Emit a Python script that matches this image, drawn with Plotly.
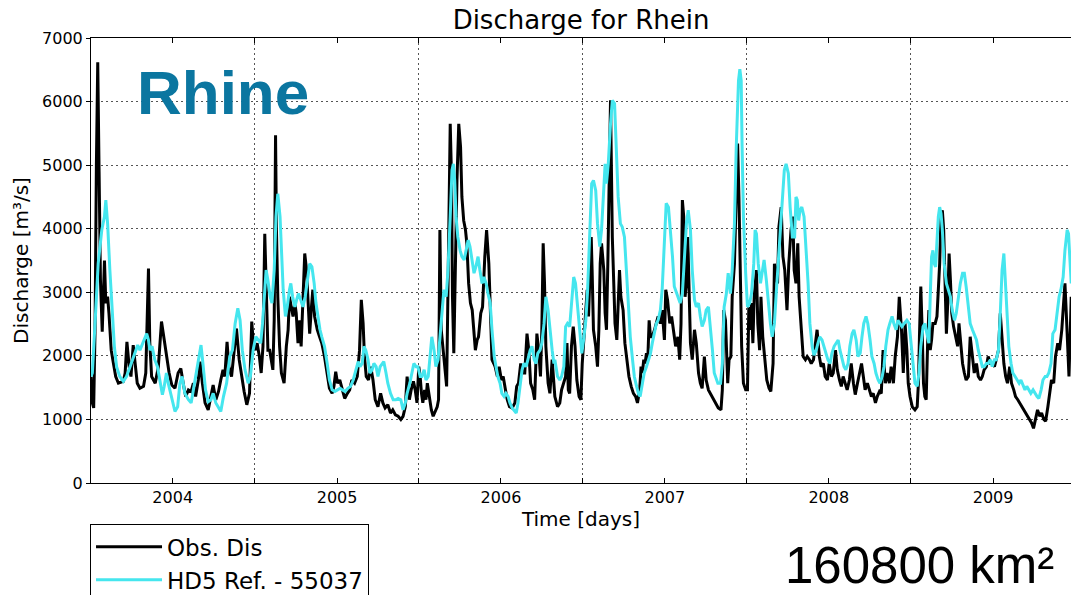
import pandas as pd
import plotly.graph_objects as go

# ---- data (days since first sample, discharge m3/s) ----
START = "2003-07-03"

obs_day = [0, 3, 6, 9, 12, 15, 18, 21, 25, 30, 33, 37, 40, 45, 50, 55, 61, 72, 76, 80, 85, 89, 94, 99, 103, 109, 117, 122, 125, 128, 131, 135, 143, 150, 157, 163, 168, 174, 180, 187, 194, 200, 206, 211, 217, 223, 228, 233, 239, 243, 248, 254, 261, 267, 272, 278, 284, 289, 294, 298, 303, 307, 313, 319, 324, 330, 335, 341, 347, 353, 358, 362,
           366, 370, 375, 379, 383, 387, 390, 394, 398, 402, 405, 408, 411, 413, 416, 420, 424, 430, 435, 439, 442, 446, 450, 454, 457, 461, 465, 468, 472, 476, 480, 483, 487, 491, 494, 498, 504, 509, 514, 520, 526, 531, 537, 541, 545, 549, 554, 559, 565, 571, 576, 581, 587, 593, 598, 602, 606, 609, 613, 618, 623, 628, 633, 639, 645, 650, 655, 661, 667, 672, 678, 684, 690, 695, 700, 704, 709, 713, 718, 722, 726,
           730, 733, 736, 739, 743, 746, 749, 753, 758, 762, 767, 771, 774, 777, 780, 785, 789, 792, 795, 798, 800, 803, 805, 808, 811, 815, 819, 823, 826, 830, 834, 837, 841, 845, 849, 852, 856, 860, 863, 868, 872, 877, 881, 886, 889, 893, 897, 900, 905, 909, 914, 918, 923, 927, 932, 938, 944, 948, 952, 957, 961, 966, 971, 975, 979, 984, 988, 993, 997, 1001, 1004, 1007, 1010, 1013, 1018, 1022, 1027, 1031,
           1033, 1039, 1044, 1048, 1053, 1057, 1060, 1063, 1066, 1070, 1074, 1078, 1082, 1087, 1091, 1094, 1099, 1102, 1105, 1108, 1111, 1114, 1116, 1119, 1124, 1128, 1131, 1134, 1137, 1142, 1145, 1148, 1151, 1154, 1157,
           1161, 1164, 1167, 1171, 1174, 1177, 1180, 1185, 1189, 1194, 1198, 1203, 1208, 1213, 1217, 1222, 1225, 1228, 1231, 1234, 1237, 1240, 1243, 1246, 1250, 1255, 1259, 1263, 1268, 1272, 1277, 1280, 1284, 1289, 1293, 1298, 1302, 1307, 1311, 1314, 1317, 1320, 1323, 1326, 1329, 1332, 1335, 1339, 1344, 1348, 1353, 1357, 1361, 1366, 1370, 1375, 1379, 1384, 1388,
           1397, 1403, 1406, 1409, 1413, 1418, 1421, 1425, 1428, 1433, 1437, 1440, 1443, 1446, 1449, 1453, 1458, 1462, 1465, 1468, 1471, 1474, 1477, 1482, 1485, 1489, 1492, 1496, 1501, 1505, 1510, 1514, 1519, 1522, 1526, 1529, 1532, 1537, 1541, 1545, 1550, 1554, 1559, 1563,
           1566, 1570, 1574, 1577, 1582, 1586, 1591, 1595, 1600, 1604, 1609, 1613, 1617, 1622, 1626, 1631, 1635, 1640, 1644, 1649, 1653, 1658, 1662, 1667, 1671, 1675, 1680, 1684, 1689, 1693, 1698, 1702, 1707, 1711, 1716, 1720, 1724, 1729, 1733, 1738, 1742, 1747, 1751, 1756, 1760, 1764, 1769, 1773, 1778, 1782, 1787, 1791, 1796, 1800, 1805, 1809,
           1813, 1817, 1820, 1824, 1829, 1835, 1840, 1843, 1845, 1848, 1851, 1854, 1857, 1860, 1863, 1866, 1869, 1872, 1875, 1880, 1884, 1887, 1890, 1893, 1896, 1899, 1902, 1905, 1908, 1911, 1914, 1917, 1921, 1926, 1930, 1933, 1936, 1941, 1945, 1949, 1954, 1958, 1963, 1967, 1972, 1976, 1981, 1985, 1989, 1994, 1998, 2003, 2007, 2012, 2016, 2021, 2025, 2028, 2033, 2037, 2041, 2046, 2050, 2055, 2059, 2064, 2068, 2073, 2077, 2082, 2086, 2090, 2095, 2099, 2104, 2108, 2113, 2117, 2122, 2126, 2131, 2135, 2139, 2144, 2148, 2153, 2157, 2162, 2166, 2169, 2172, 2175, 2178, 2181, 2183]

obs_q = [1670, 1260, 1180, 2400, 5000, 6620, 4900, 3200, 2380, 3500, 2830, 2930, 2670, 2090, 1880, 1675, 1570, 1600, 1730, 2220, 1830, 1675, 2170, 1830, 1570, 1490, 1520, 1730, 2410, 3375, 2200, 1675, 1570, 1830, 2540, 2250, 1940, 1730, 1540, 1490, 1730, 1800, 1540, 1360, 1465, 1440, 1570, 1360, 1620, 1910, 1570, 1260, 1150, 1360, 1540, 1310, 1440, 1620, 1780, 1675, 2220, 1830, 1675, 2090, 2430, 1940, 1675, 1440, 1230, 1410, 2540, 2150,
         2090, 2200, 1990, 1730, 2150, 3920, 3140, 2090, 2090, 1880, 1780, 2560, 5470, 3980, 2930, 2150, 1730, 1570, 2150, 2410, 2930, 2770, 2620, 2830, 2670, 2200, 2560, 2150, 2830, 3610, 3350, 2830, 2350, 2770, 3040, 2620, 2410, 2300, 2200, 1990, 1730, 1490, 1410, 1520, 1750, 1570, 1620, 1465, 1330, 1410, 1465, 1620, 1570, 1675, 2090, 2880, 2510, 1990, 1675, 1620, 1830, 1620, 1310, 1200, 1410, 1260, 1180, 1230, 1100, 1150, 1070, 1050, 1000, 1050, 1200, 1675, 1310, 1465, 1600, 1465, 1260,
         1830, 1675, 1410, 1260, 1465, 1310, 1570, 1360, 1150, 1050, 1150, 1200, 1310, 3980, 2410, 2040, 1675, 1520, 3040, 5020, 5650, 4760, 2930, 2040, 3450, 4760, 5650, 5290, 4500, 4130, 3980, 3770, 3140, 2830, 2720, 2410, 2090, 2250, 2300, 2670, 2770, 3560, 3980, 3450, 2620, 1940, 1880, 1830, 1675, 1830, 1620, 1675, 1465, 1310, 1200, 1180, 1260, 1520, 1570, 1880, 1730, 1730, 2350, 2090, 1570, 1465, 1310, 2350, 2090, 1675, 2410, 3770, 3140, 2150, 1570, 1410, 1940, 1520,
         1360, 1200, 1260, 1465, 1570, 1675, 2200, 1465, 1410, 2150, 2460, 2150, 1620, 1360, 1310, 1880, 2410, 2830, 3040, 2620, 3140, 3870, 3350, 2410, 2150, 1830, 2410, 3450, 3770, 3350, 2670, 2410, 3450, 5020, 6020,
         3870, 3140, 2510, 2250, 2930, 3350, 2930, 2720, 2200, 1880, 1675, 1520, 1410, 1360, 1260, 1465, 1830, 1730, 1940, 1880, 2040, 1940, 2560, 2300, 2300, 2410, 2510, 2620, 2510, 2720, 2250, 3040, 2880, 2510, 2620, 2350, 2150, 2300, 1940, 2510, 4450, 4190, 2930, 3140, 3870, 3040, 2200, 1940, 2410, 2200, 1730, 1570, 1490, 1990, 1620, 1465, 1410, 1360, 1310,
         1180, 1150, 1465, 2720, 2560, 1570, 1940, 1990, 2930, 3450, 4600, 5340, 4500, 2930, 2150, 1570, 1465, 1465, 2770, 2410, 2830, 2200, 2930, 3350, 2510, 2090, 2930, 2300, 1880, 1620, 1490, 1440, 1880, 3450, 3240, 3140, 4030, 4340, 3560, 3350, 2720, 3450, 3980, 4190,
         3350, 3140, 3770, 2930, 2410, 1990, 1940, 1990, 1940, 1880, 1940, 2150, 2410, 1990, 1830, 1880, 1675, 1620, 1880, 1675, 1730, 2090, 1780, 1620, 1520, 1675, 1570, 1465, 1620, 1880, 1570, 1390, 1570, 1730, 1880, 1675, 1465, 1570, 1465, 1360, 1410, 1260, 1360, 1440, 1410, 2090, 1570, 1730, 1570, 1830, 1570, 1990, 2300, 2930, 2410, 1730,
         2510, 2090, 1570, 1360, 1200, 1150, 1200, 1620, 2300, 3090, 2410, 1570, 1360, 1310, 2150, 2720, 2090, 2250, 2510, 2510, 2620, 3040, 3450, 4190, 4290, 3980, 3090, 2350, 2830, 3610, 3190, 2670, 2460, 2250, 2150, 2510, 2250, 1880, 1730, 1620, 1675, 2300, 1990, 1730, 1880, 1675, 1620, 1675, 1780, 1830, 1990, 1880, 1880, 1830, 1940, 2090, 2670, 2300, 1880, 1675, 1570, 1830, 1570, 1465, 1360, 1310, 1260, 1200, 1150, 1100, 1050, 1000, 940, 860, 1000, 1150, 1050, 1100, 1000, 970, 1200, 1410, 1620, 1570, 1990, 2200, 2090, 2410, 2930, 3140, 2670, 1990, 1675, 2410, 2930]

sim_day = [0, 3, 9, 16, 24, 30, 33, 37, 42, 48, 52, 57, 64, 72, 79, 87, 92, 98, 104, 109, 116, 124, 128, 131, 136, 142, 148, 154, 159, 163, 168, 172, 180, 187, 193, 198, 203, 209, 217, 223, 228, 235, 240, 245, 250, 255, 261, 267, 272, 278, 283, 289, 295, 302, 309, 315, 321, 327, 332, 337, 343, 350, 355, 361, 367,
           372, 378, 382, 387, 390, 394, 399, 403, 408, 412, 416, 421, 424, 428, 433, 437, 442, 445, 449, 454, 458, 462, 467, 472, 477, 482, 487, 492, 497, 501, 506, 510, 514, 520, 526, 531, 537, 543, 549, 555, 560, 566, 572, 578, 584, 590, 595, 599, 604, 608, 612, 617, 621, 626, 630, 635, 639, 644, 648, 652, 657, 661, 667, 673, 679, 684, 690, 695, 700, 704, 710, 715, 719, 724,
           728, 733, 737, 742, 746, 751, 755, 759, 764, 768, 773, 777, 782, 786, 791, 795, 800, 804, 807, 810, 813, 817, 822, 826, 831, 835, 840, 844, 849, 853, 857, 862, 866, 871, 875, 880, 884, 889, 893, 898, 902, 906, 911, 915, 920, 924, 929, 933, 938, 942, 947, 951, 955, 960, 964, 969, 973, 978, 982, 987, 991, 995, 1000, 1004, 1009, 1013, 1018, 1022, 1027, 1031,
           1033, 1039, 1044, 1048, 1053, 1057, 1061, 1066, 1070, 1075, 1079, 1084, 1088, 1093, 1097, 1102, 1106, 1111, 1115, 1119, 1124, 1128, 1133, 1137, 1142, 1145, 1148, 1152, 1157, 1161,
           1166, 1170, 1174, 1179, 1183, 1188, 1192, 1197, 1201, 1206, 1210, 1215, 1219, 1223, 1228, 1232, 1237, 1241, 1246, 1250, 1255, 1259, 1263, 1268, 1272, 1277, 1281, 1286, 1290, 1295, 1299, 1304, 1308, 1312, 1317, 1321, 1326, 1330, 1335, 1339, 1344, 1348, 1353, 1357, 1361, 1366, 1370, 1375, 1379, 1384, 1388,
           1396, 1402, 1406, 1410, 1415, 1419, 1424, 1428, 1433, 1437, 1442, 1445, 1448, 1450, 1453, 1458, 1462, 1467, 1471, 1476, 1479, 1482, 1486, 1491, 1495, 1499, 1504, 1508, 1513, 1517, 1522, 1526, 1531, 1535, 1540, 1544, 1548, 1553, 1557, 1562,
           1567, 1570, 1573, 1576, 1579, 1583, 1588, 1592, 1597, 1601, 1606, 1610, 1615, 1619, 1623, 1628, 1632, 1637, 1641, 1646, 1650, 1655, 1659, 1664, 1668, 1673, 1677, 1681, 1686, 1690, 1695, 1699, 1704, 1708, 1713, 1717, 1721, 1726, 1730, 1735, 1739, 1744, 1748, 1753, 1757, 1762, 1766, 1770, 1775, 1779, 1784, 1788, 1793, 1797, 1802, 1806, 1811,
           1817, 1822, 1826, 1831, 1835, 1840, 1844, 1848, 1853, 1857, 1862, 1866, 1869, 1872, 1875, 1878, 1881, 1884, 1887, 1890, 1893, 1896, 1900, 1905, 1909, 1914, 1918, 1923, 1927, 1932, 1936, 1941, 1945, 1949, 1954, 1958, 1963, 1967, 1972, 1976, 1981, 1985, 1989, 1994, 1998, 2003, 2007, 2012, 2016, 2021, 2025, 2029, 2033, 2035, 2040, 2044, 2049, 2053, 2058, 2062, 2067, 2071, 2076, 2080, 2084, 2089, 2093, 2098, 2102, 2107, 2111, 2116, 2120, 2125, 2129, 2133, 2138, 2142, 2147, 2151, 2156, 2160, 2165, 2169, 2174, 2177, 2180, 2183]

sim_q = [1675, 1730, 2510, 3450, 3980, 4190, 4450, 4080, 3350, 2620, 2150, 1830, 1675, 1600, 1675, 1830, 1940, 2040, 2170, 2090, 2200, 2350, 2250, 2090, 2150, 1940, 1830, 1570, 1390, 1520, 1730, 1570, 1310, 1125, 1200, 1570, 1675, 1410, 1310, 1260, 1465, 1780, 1990, 2170, 1830, 1465, 1280, 1310, 1410, 1260, 1200, 1125, 1360, 1570, 1990, 2090, 2510, 2750, 2560, 2090, 1780, 1570, 1675, 2090, 2300,
         2250, 2200, 2510, 3140, 3350, 3190, 2930, 2830, 3350, 4190, 4550, 4190, 3560, 3040, 2620, 2770, 3040, 3140, 2930, 2770, 2880, 2980, 2880, 2770, 2930, 3240, 3450, 3400, 3140, 2830, 2560, 2410, 2300, 2150, 1880, 1620, 1465, 1440, 1465, 1490, 1465, 1440, 1490, 1520, 1620, 1780, 1910, 1830, 1880, 2150, 2090, 1940, 1730, 1780, 1880, 1830, 1675, 1830, 1880, 1910, 1730, 1570, 1410, 1310, 1310, 1330, 1310, 1150, 1260, 1410, 1570, 1780, 1880, 1830,
         1830, 1675, 1675, 1780, 1620, 1675, 1940, 2300, 2090, 1830, 1940, 2250, 2620, 3040, 2930, 3350, 4190, 4920, 5020, 4760, 4190, 3870, 3660, 3560, 3510, 3660, 3820, 3720, 3450, 3300, 3400, 3560, 3350, 3140, 3240, 3140, 2980, 2830, 2410, 1990, 1830, 1675, 1570, 1410, 1360, 1410, 1360, 1260, 1180, 1150, 1100, 1260, 1520, 1780, 1880, 1830, 1940, 2090, 2150, 1940, 1880, 2040, 2090, 2200, 2510, 2930, 2720, 2410, 2090, 1880,
         1940, 1675, 1620, 1675, 1830, 2460, 2510, 2460, 2830, 3240, 3140, 2770, 2410, 2040, 2250, 2560, 3040, 3870, 4710, 4760, 4600, 4080, 3720, 3980, 4760, 5020, 4710, 5020, 5650, 6020,
         5970, 5290, 4500, 4080, 4030, 3870, 3350, 2770, 2300, 1940, 1675, 1520, 1410, 1360, 1570, 1730, 1830, 1940, 2040, 2200, 2410, 2510, 2560, 2720, 3040, 3770, 4400, 4340, 4030, 3560, 3090, 2980, 2930, 2830, 2980, 3450, 4080, 4290, 3980, 3350, 2880, 2770, 2830, 2620, 2460, 2560, 2720, 2770, 2510, 2090, 1730,
         1570, 1570, 1880, 2770, 2980, 3300, 2980, 3350, 4080, 5290, 6330, 6510, 6330, 5290, 4190, 3300, 2770, 2830, 2980, 3450, 3980, 3920, 3450, 3140, 3350, 3510, 3190, 2830, 2510, 2300, 2510, 2980, 3510, 3980, 4500, 4920, 5020, 4870, 4340, 3870,
         3870, 4500, 4450, 4130, 4290, 4340, 4190, 3770, 3140, 2510, 2150, 2010, 2090, 2200, 2300, 2250, 2150, 2010, 1940, 1880, 2040, 2150, 2200, 2250, 2090, 1940, 1830, 1780, 1880, 2150, 2350, 2410, 2250, 1990, 2040, 2300, 2510, 2620, 2510, 2250, 1990, 1880, 1730, 1620, 1570, 1675, 1830, 2150, 2410, 2510, 2620, 2510, 2410, 2560, 2510, 2460, 2510,
         2560, 2510, 2250, 1830, 1570, 1520, 1730, 2150, 2460, 2510, 2300, 2200, 2930, 3560, 3660, 3450, 3400, 3770, 4190, 4340, 4240, 3980, 3450, 3140, 3040, 2930, 2720, 2560, 2670, 2930, 3140, 3300, 3300, 3090, 2770, 2510, 2410, 2350, 2250, 2090, 1940, 1830, 1830, 1880, 1880, 1940, 1830, 1940, 1940, 2090, 2670, 3350, 3610, 3350, 2670, 2150, 1880, 1730, 1675, 1620, 1570, 1620, 1520, 1465, 1520, 1465, 1410, 1465, 1410, 1360, 1330, 1465, 1620, 1675, 1675, 1730, 1880, 2350, 2410, 2670, 2930, 3040, 3240, 3660, 3980, 3920, 3560, 3140]

year_labels = ["2004", "2005", "2006", "2007", "2008", "2009"]
y_ticks = [0, 1000, 2000, 3000, 4000, 5000, 6000, 7000]

start = pd.Timestamp(START)
obs_x = start + pd.to_timedelta(obs_day, unit="D")
sim_x = start + pd.to_timedelta(sim_day, unit="D")
x_end = start + pd.to_timedelta(2182.5, unit="D")

label_dates = [pd.Timestamp(f"{y}-01-01") for y in year_labels]
grid_dates = [pd.Timestamp(f"{y}-07-01") for y in range(2004, 2010)]

FONT = "DejaVu Sans"

fig = go.Figure()
fig.add_trace(go.Scatter(x=obs_x, y=obs_q, mode="lines", name="Obs. Dis",
                         line=dict(color="black", width=3)))
fig.add_trace(go.Scatter(x=sim_x, y=sim_q, mode="lines", name="HD5 Ref. - 55037",
                         line=dict(color="#45E6EE", width=3)))

fig.update_layout(
    width=1071, height=595,
    margin=dict(l=91, r=0, t=38, b=112, autoexpand=False),
    paper_bgcolor="white", plot_bgcolor="white",
    font=dict(family=FONT, color="black"),
    title=dict(text="Discharge for Rhein", x=0.5, xref="paper", xanchor="center",
               y=1 - 20 / 595, yanchor="middle", font=dict(family=FONT, size=26, color="black")),
    xaxis=dict(
        type="date", range=[start, x_end],
        tickmode="array", tickvals=label_dates, ticktext=year_labels,
        ticks="inside", ticklen=5, tickcolor="black",
        showline=True, linecolor="black", linewidth=1, mirror="ticks",
        showgrid=False, zeroline=False,
        tickfont=dict(family=FONT, size=16, color="black"),
        minor=dict(tickmode="array", tickvals=grid_dates, ticks="inside", ticklen=5,
                   tickcolor="black", showgrid=True, gridcolor="#555555",
                   griddash="2px,3px", gridwidth=1),
        title=dict(text="Time [days]", font=dict(family=FONT, size=20, color="black"), standoff=4),
    ),
    yaxis=dict(
        range=[0, 7000], tickmode="array", tickvals=y_ticks,
        ticks="outside", ticklen=4, tickcolor="black",
        showline=True, linecolor="black", linewidth=1, mirror=False,
        showgrid=True, gridcolor="#555555", griddash="2px,3px", gridwidth=1,
        zeroline=False,
        tickfont=dict(family=FONT, size=16, color="black"),
        title=dict(text="Discharge [m³/s]", font=dict(family=FONT, size=20, color="black"), standoff=8),
    ),
    legend=dict(x=-0.001, y=-0.093, xanchor="left", yanchor="top",
                bordercolor="black", borderwidth=1, bgcolor="white",
                font=dict(family=FONT, size=23, color="black"), itemwidth=66),
    showlegend=True,
)

fig.add_annotation(text="<b>Rhine</b>", xref="paper", yref="paper",
                   x=(135 - 91) / 980, y=(483.3 - 92) / 445.8, xanchor="left", yanchor="middle",
                   showarrow=False, font=dict(family="Liberation Sans", size=62, color="#0B76A0"))
fig.add_annotation(text="160800 km²", xref="paper", yref="paper",
                   x=(1056 - 91) / 980, y=(483.3 - 566) / 445.8, xanchor="right", yanchor="middle",
                   showarrow=False, font=dict(family="Liberation Sans", size=51, color="black"))

fig.write_html("out.html")
